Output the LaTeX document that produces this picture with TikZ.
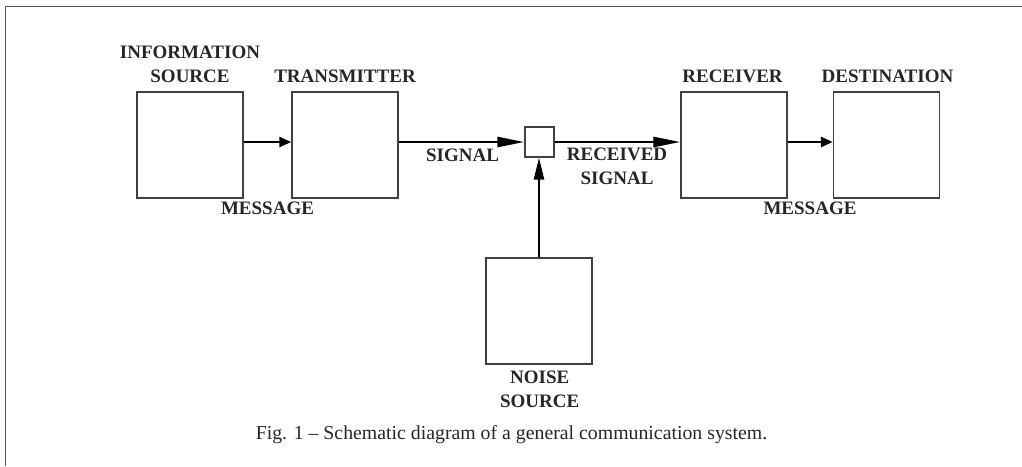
\documentclass[tikz,border=0pt]{standalone}
\usepackage{fontspec}
\setmainfont{Liberation Serif}
\usetikzlibrary{arrows.meta,calc}

\tikzset{
  blk/.style={draw=black!75, line width=1.3pt, minimum width=106pt, minimum height=106pt, inner sep=0pt},
  mixer/.style={draw=black!75, line width=1.3pt, minimum width=29pt, minimum height=30pt, inner sep=0pt},
  lbl/.style={inner sep=0pt, align=center, text depth=0pt, text=black!85, font=\bfseries\fontsize{19}{24.5}\selectfont},
  sarrow/.style={line width=2.6pt, -{Triangle[length=12pt,width=10pt]}},
  larrow/.style={line width=2.6pt, -{Triangle[length=27pt,width=10pt]}},
}

\begin{document}
\begin{tikzpicture}[x=1pt, y=-1pt]
		%%%%% START %%%%%
		\useasboundingbox (0,0) rectangle (1022,466);
		\draw[black!65, line width=1.5pt] (5.5,466) -- (5.5,6.5) -- (1022,6.5);
		
		\node[blk] (src) at (190,145) {};
		\node[blk] (tx) at (345,145) {};
		\node[mixer] (mix) at (539.5,142) {};
		\node[blk] (rx) at (734,145) {};
		\node[blk] (dst) at (886.5,145) {};
		\node[blk] (noise) at (539,311) {};
		
		\draw[sarrow] (src.east |- mix) -- (tx.west |- mix);
		\draw[larrow] (tx.east |- mix) -- (mix.west);
		\draw[larrow] (mix.east) -- (rx.west |- mix);
		\draw[sarrow] (rx.east |- mix) -- (dst.west |- mix);
		\draw[larrow, -{Triangle[length=22pt,width=10pt]}] (noise.north) -- (noise.north |- mix.south);
		
		\node[lbl, anchor=south] (srclbl) at (190,83) {INFORMATION\\SOURCE};
		\node[lbl, anchor=south] (txlbl) at (345,83) {TRANSMITTER};
		\node[lbl, anchor=south] (msg1) at (267.5,215) {MESSAGE};
		\node[lbl, anchor=south] (sig) at (462.5,161.7) {SIGNAL};
		\node[lbl, anchor=south] (rsig) at (617,185) {RECEIVED\\SIGNAL};
		\node[lbl, anchor=south] (rxlbl) at (732.5,83) {RECEIVER};
		\node[lbl, anchor=south] (dstlbl) at (887.5,83) {DESTINATION};
		\node[lbl, anchor=south] (msg2) at (810,215) {MESSAGE};
		\node[lbl, anchor=south] (noiselbl) at (539.7,407.7) {NOISE\\SOURCE};
		
		\node[inner sep=0pt, anchor=base, text=black!85, font=\fontsize{19.8}{24}\selectfont] (cap) at (511.5,439.3)
			{Fig. 1 -- Schematic diagram of a general communication system.};
		%%%%% END %%%%%
\end{tikzpicture}
\end{document}
